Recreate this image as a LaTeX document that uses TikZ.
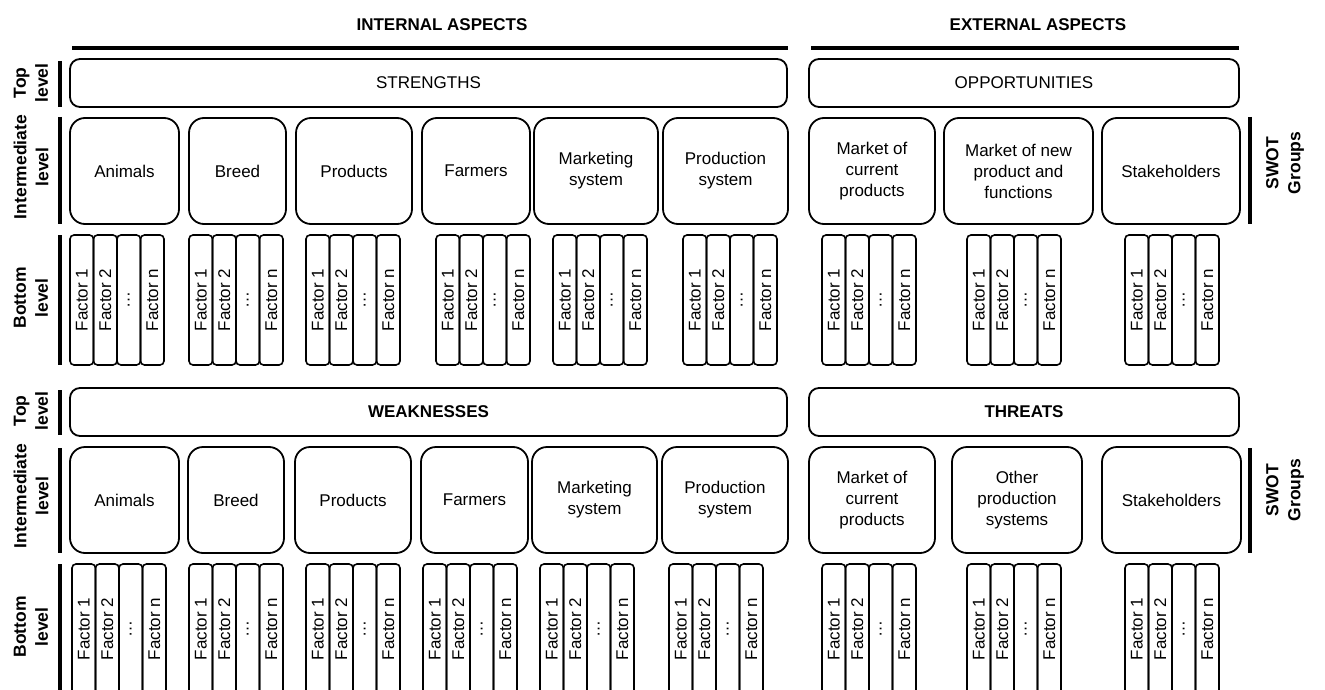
\documentclass[tikz,border=0pt]{standalone}
\usepackage{fontspec}
\setmainfont{Liberation Sans}
\begin{document}
\begin{tikzpicture}[x=1pt,y=-1pt,
  ibox/.style={draw, line width=1.8pt, rounded corners=15pt, align=center, inner sep=0pt,
    font=\fontsize{17}{21}\selectfont},
  tbox/.style={draw, line width=1.8pt, rounded corners=10pt, inner sep=0pt,
    font=\fontsize{17}{20}\selectfont},
  fbox/.style={draw, line width=1.6pt, rounded corners=4pt, rotate=90, inner sep=0pt,
    minimum width=130pt, minimum height=23.5pt, font=\fontsize{17}{20}\selectfont},
  sidelbl/.style={rotate=90, align=center, font=\bfseries\fontsize{17.5}{22}\selectfont},
  heading/.style={font=\bfseries\fontsize{17}{20}\selectfont},
  bar/.style={line width=3.5pt},
]
\useasboundingbox (0,0) rectangle (1325,690);
\clip (0,0) rectangle (1325,690);

\newcommand\rbx[7]{\node[#1, minimum width={#5-#3}, minimum height={#6-#4}] (#2) at ({(#3+#5)/2},{(#4+#6)/2}) {#7};}

% headings
\node[heading] (hint) at (442,25) {INTERNAL ASPECTS};
\node[heading] (hext) at (1038,25) {EXTERNAL ASPECTS};
\coordinate (li1) at (72,48); \coordinate (li2) at (788,48);
\coordinate (le1) at (811,48); \coordinate (le2) at (1239,48);
\draw[bar] (li1) -- (li2);
\draw[bar] (le1) -- (le2);

% ===== upper section =====
\rbx{tbox}{str}{70}{59}{787}{107}{STRENGTHS}
\rbx{tbox}{opp}{809}{59}{1239}{107}{OPPORTUNITIES}

\rbx{ibox}{uA}{70}{118}{179}{224}{Animals}
\rbx{ibox}{uB}{189}{118}{286}{224}{Breed}
\rbx{ibox}{uC}{296}{118}{412}{224}{Products}
\rbx{ibox}{uD}{422}{118}{530}{224}{Farmers}
\rbx{ibox}{uE}{534}{118}{658}{224}{Marketing\\system}
\rbx{ibox}{uF}{663}{118}{788}{224}{Production\\system}
\rbx{ibox}{uG}{809}{118}{935}{224}{Market of\\current\\products}
\rbx{ibox}{uH}{944}{118}{1093}{224}{Market of new\\product and\\functions}
\rbx{ibox}{uI}{1102}{118}{1240}{224}{Stakeholders}

\foreach \gx [count=\g] in {70,189,306,436,553,683,822,967,1125} {
  \foreach \t [count=\c] in {Factor 1,Factor 2,\ldots,Factor n} {
    \node[fbox] (uf\g-\c) at ({\gx+(\c-0.5)*23.5},300) {\t};
  }
}

% side labels upper
\coordinate (ut1) at (60,61); \coordinate (ut2) at (60,107);
\coordinate (ui1) at (60,117); \coordinate (ui2) at (60,224);
\coordinate (ub1) at (60,235); \coordinate (ub2) at (60,365);
\draw[bar] (ut1) -- (ut2);
\draw[bar] (ui1) -- (ui2);
\draw[bar] (ub1) -- (ub2);
\node[sidelbl] (utl) at (31,83) {Top\\level};
\node[sidelbl] (uil) at (31,167) {Intermediate\\level};
\node[sidelbl] (ubl) at (31,298) {Bottom\\level};
\coordinate (us1) at (1250,117); \coordinate (us2) at (1250,224);
\draw[bar] (us1) -- (us2);
\node[sidelbl] (usl) at (1285,163) {SWOT\\Groups};

% ===== lower section =====
\rbx{tbox}{wea}{70}{388}{787}{436}{\bfseries WEAKNESSES}
\rbx{tbox}{thr}{809}{388}{1239}{436}{\bfseries THREATS}

\rbx{ibox}{lA}{70}{447}{179}{553}{Animals}
\rbx{ibox}{lB}{188}{447}{284}{553}{Breed}
\rbx{ibox}{lC}{295}{447}{411}{553}{Products}
\rbx{ibox}{lD}{421}{447}{528}{553}{Farmers}
\rbx{ibox}{lE}{532}{447}{657}{553}{Marketing\\system}
\rbx{ibox}{lF}{662}{447}{788}{553}{Production\\system}
\rbx{ibox}{lG}{809}{447}{935}{553}{Market of\\current\\products}
\rbx{ibox}{lH}{952}{447}{1082}{553}{Other\\production\\systems}
\rbx{ibox}{lI}{1102}{447}{1241}{553}{Stakeholders}

\foreach \gx [count=\g] in {72,189,306,423,540,669,822,967,1125} {
  \foreach \t [count=\c] in {Factor 1,Factor 2,\ldots,Factor n} {
    \node[fbox] (lf\g-\c) at ({\gx+(\c-0.5)*23.5},629) {\t};
  }
}

\coordinate (lt1) at (60,390); \coordinate (lt2) at (60,435);
\coordinate (li1) at (60,448); \coordinate (li2) at (60,553);
\coordinate (lb1) at (60,564); \coordinate (lb2) at (60,700);
\draw[bar] (lt1) -- (lt2);
\draw[bar] (li1) -- (li2);
\draw[bar] (lb1) -- (lb2);
\node[sidelbl] (ltl) at (31,411) {Top\\level};
\node[sidelbl] (lil) at (31,496) {Intermediate\\level};
\node[sidelbl] (lbl) at (31,627) {Bottom\\level};
\coordinate (ls1) at (1250,448); \coordinate (ls2) at (1250,553);
\draw[bar] (ls1) -- (ls2);
\node[sidelbl] (lsl) at (1285,490) {SWOT\\Groups};
\end{tikzpicture}
\end{document}
